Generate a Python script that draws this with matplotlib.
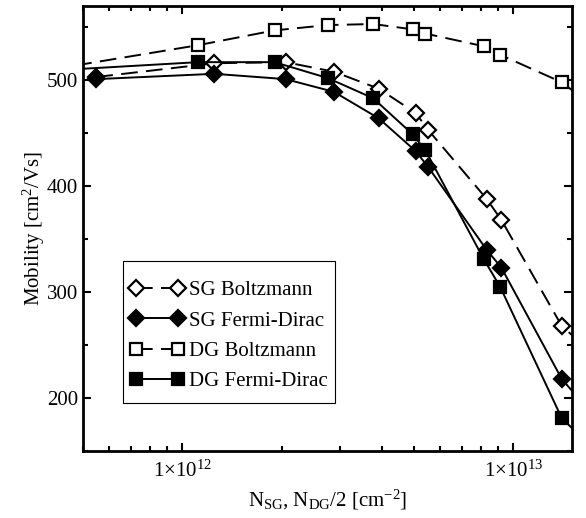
import matplotlib
matplotlib.use('Agg')
import matplotlib.pyplot as plt
from matplotlib.patches import Rectangle
from matplotlib.ticker import FixedLocator, LogLocator, MultipleLocator, NullFormatter

# carrier density (SG: N_SG, DG: N_DG/2) in cm^-2
x_sg = [5.5e11, 1.25e12, 2.05e12, 2.87e12, 3.92e12, 5.07e12, 5.53e12, 8.3e12, 9.2e12, 1.4e13, 2.0e13]
x_dg = [4.0e11, 1.115e12, 1.9e12, 2.75e12, 3.77e12, 4.96e12, 5.42e12, 8.14e12, 9.12e12, 1.4e13, 2.0e13]

# mobility in cm^2/Vs
sg_boltz = [503, 516, 517, 508, 492, 469, 453, 388, 368, 268, 225]
sg_fd = [501, 506, 501, 489, 464, 433, 418, 340, 323, 218, 162]
dg_boltz = [510, 533, 547, 552, 553, 548, 544, 532, 524, 498, 461]
dg_fd = [509, 517, 517, 502, 483, 449, 434, 331, 305, 181, 134]

xticks = [1e12, 1e13]
xticklabels = ['1×10$^{12}$', '1×10$^{13}$']

plt.rcParams['font.family'] = ['Liberation Serif', 'DejaVu Serif']
plt.rcParams['mathtext.fontset'] = 'custom'
plt.rcParams['mathtext.rm'] = 'Liberation Serif'
plt.rcParams['mathtext.it'] = 'Liberation Serif:italic'
plt.rcParams['lines.scale_dashes'] = False

fig = plt.figure(figsize=(5.86, 5.18), dpi=100)
ax = fig.add_axes([0.141, 0.1293, 0.8346, 0.8591])

dash = (12, 6)
ax.plot(x_sg, sg_boltz, color='black', lw=1.4, dashes=dash, marker='D', ms=8,
        mfc='white', mec='black', mew=1.6, label='SG Boltzmann')
ax.plot(x_sg, sg_fd, color='black', lw=1.4, marker='D', ms=8,
        mfc='black', mec='black', mew=1.6, label='SG Fermi-Dirac')
ax.plot(x_dg, dg_boltz, color='black', lw=1.4, dashes=dash, marker='s', ms=8,
        mfc='white', mec='black', mew=1.6, label='DG Boltzmann')
ax.plot(x_dg, dg_fd, color='black', lw=1.4, marker='s', ms=8,
        mfc='black', mec='black', mew=1.6, label='DG Fermi-Dirac')

ax.set_xscale('log')
ax.set_xlim(5e11, 1.5e13)
ax.set_ylim(150, 570)

ax.xaxis.set_major_locator(FixedLocator(xticks))
ax.set_xticklabels(xticklabels)
ax.xaxis.set_minor_locator(LogLocator(base=10, subs=range(2, 10)))
ax.xaxis.set_minor_formatter(NullFormatter())
ax.yaxis.set_major_locator(MultipleLocator(100))
ax.yaxis.set_minor_locator(MultipleLocator(50))

ax.tick_params(which='both', direction='in', top=True, right=True, width=1.5, labelsize=15)
ax.tick_params(which='major', length=6)
ax.tick_params(which='minor', length=3.3)
ax.tick_params(axis='x', which='major', pad=7)
for sp in ax.spines.values():
    sp.set_linewidth(2)

ax.set_xlabel('N$_{\\rm SG}$, N$_{\\rm DG}$/2 [cm$^{-2}$]', size=15, labelpad=4)
ax.set_ylabel('Mobility [cm$^2$/Vs]', size=15, labelpad=0)

# legend box drawn by hand so the padding matches
ax.add_patch(Rectangle((0.083, 0.107), 0.434, 0.321, transform=ax.transAxes,
                       facecolor='white', edgecolor='black', lw=0.8, zorder=4))
leg = ax.legend(loc='upper left', bbox_to_anchor=(0.097, 0.383), borderaxespad=0,
                numpoints=2, fontsize=15, handlelength=2.6, handletextpad=0.25,
                labelspacing=0.52, borderpad=0, frameon=False)
leg.set_zorder(5)

fig.savefig('out.png', dpi=100)
